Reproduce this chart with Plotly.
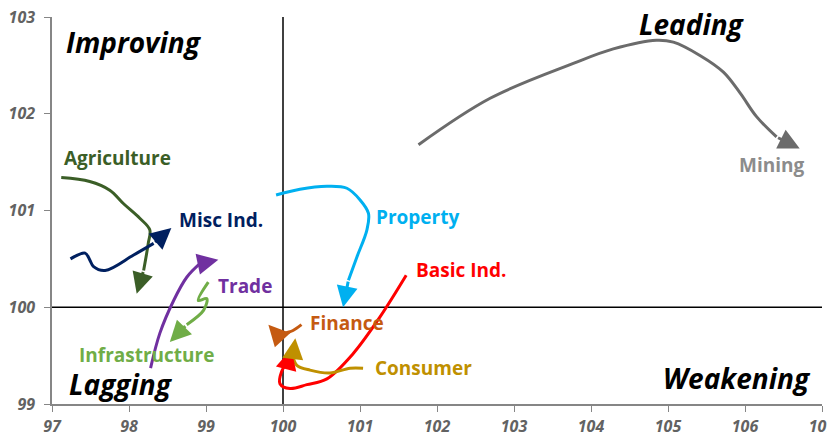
import plotly.graph_objects as go

# ---- data ----
sectors = ["Mining", "Agriculture", "Misc Ind.", "Trade", "Infrastructure",
           "Property", "Basic Ind.", "Consumer", "Finance"]

mining_x = [101.76, 102.69, 103.77, 104.29, 104.85, 105.07, 105.42, 105.72, 105.94, 106.15, 106.41, 106.71]
mining_y = [101.68, 102.16, 102.52, 102.67, 102.76, 102.74, 102.60, 102.43, 102.21, 101.97, 101.76, 101.64]

agri_x = [97.12, 97.49, 97.75, 97.93, 98.14, 98.27, 98.25, 98.19, 98.10]
agri_y = [101.34, 101.30, 101.21, 101.07, 100.92, 100.80, 100.66, 100.38, 100.14]

misc_x = [97.24, 97.43, 97.49, 97.54, 97.69, 98.06, 98.32, 98.55]
misc_y = [100.50, 100.56, 100.49, 100.42, 100.38, 100.54, 100.66, 100.82]

trade_x = [98.28, 98.40, 98.58, 98.75, 98.92, 99.16]
trade_y = [99.37, 99.73, 100.07, 100.31, 100.45, 100.49]

infra_x = [99.03, 98.90, 99.01, 98.97, 98.75, 98.53]
infra_y = [100.26, 100.07, 100.09, 99.97, 99.82, 99.64]

prop_x = [99.91, 100.22, 100.57, 100.83, 101.00, 101.11, 101.09, 100.96, 100.85, 100.78]
prop_y = [101.16, 101.22, 101.25, 101.23, 101.11, 100.97, 100.80, 100.52, 100.28, 100.00]

basic_x = [101.60, 101.26, 100.91, 100.57, 100.31, 100.09, 99.96, 99.98, 100.07, 100.11]
basic_y = [100.33, 99.90, 99.52, 99.26, 99.20, 99.16, 99.21, 99.33, 99.45, 99.57]

cons_x = [101.04, 100.87, 100.61, 100.35, 100.18, 100.13, 100.16]
cons_y = [99.37, 99.37, 99.32, 99.35, 99.40, 99.49, 99.68]

fin_x = [100.24, 100.13, 100.03, 99.96, 99.81]
fin_y = [99.82, 99.76, 99.73, 99.69, 99.82]

label_x = [106.35, 97.85, 99.20, 99.51, 98.23, 101.75, 102.31, 101.82, 100.83]
label_y = [101.47, 101.54, 100.90, 100.22, 99.51, 100.93, 100.38, 99.37, 99.84]

quadrants = ["Improving", "Leading", "Lagging", "Weakening"]
quad_x = [98.07, 105.31, 97.89, 105.90]
quad_y = [102.74, 102.93, 99.21, 99.27]

x_ticks = list(range(97, 108))
y_ticks = list(range(99, 104))
center = 100

# ---- styling ----
line_colors = ["#6b6b6b", "#3b5e27", "#002060", "#7030a0", "#70ad47",
               "#00b0f0", "#ff0000", "#bf9000", "#c55a11"]
label_colors = ["#8c8c8c", "#3b5e27", "#002060", "#7030a0", "#70ad47",
                "#00b0f0", "#ff0000", "#bf9000", "#c55a11"]

series = [(mining_x, mining_y), (agri_x, agri_y), (misc_x, misc_y),
          (trade_x, trade_y), (infra_x, infra_y), (prop_x, prop_y),
          (basic_x, basic_y), (cons_x, cons_y), (fin_x, fin_y)]

FONT = "Open Sans"
fig = go.Figure()
annotations = []

for name, (xs, ys), lc in zip(sectors, series, line_colors):
    fig.add_trace(go.Scatter(x=xs[:-1], y=ys[:-1], mode="lines",
                             line=dict(color=lc, width=3, shape="spline", smoothing=1.0),
                             name=name, showlegend=False, hoverinfo="skip"))
    annotations.append(dict(x=xs[-1], y=ys[-1], ax=xs[-2], ay=ys[-2],
                            xref="x", yref="y", axref="x", ayref="y",
                            text="", showarrow=True, arrowhead=2, arrowsize=1.4,
                            arrowwidth=3, arrowcolor=lc, standoff=0))

for name, lx, ly, c in zip(sectors, label_x, label_y, label_colors):
    annotations.append(dict(x=lx, y=ly, xref="x", yref="y", text="<b>%s</b>" % name,
                            showarrow=False, font=dict(family=FONT, size=19, color=c)))

for q, qx, qy in zip(quadrants, quad_x, quad_y):
    annotations.append(dict(x=qx, y=qy, xref="x", yref="y", text="<b><i>%s</i></b>" % q,
                            showarrow=False, font=dict(family=FONT, size=28, color="black")))

shapes = [
    dict(type="line", xref="x", yref="paper", x0=center, x1=center, y0=0, y1=1,
         line=dict(color="black", width=1.5), layer="below"),
    dict(type="line", xref="paper", yref="y", x0=0, x1=1, y0=center, y1=center,
         line=dict(color="black", width=1.5), layer="below"),
]

tickfont = dict(family=FONT, size=16, color="#626262")
axis_common = dict(showgrid=False, zeroline=False, showline=True, linecolor="#868686",
                   linewidth=1.5, ticks="outside", ticklen=6, tickcolor="#868686",
                   tickfont=tickfont, automargin=False, ticklabeloverflow="allow")
fig.update_layout(
    width=835, height=436,
    margin=dict(l=44, r=21, t=9, b=40),
    paper_bgcolor="white", plot_bgcolor="white",
    annotations=annotations, shapes=shapes,
    xaxis=dict(range=[97, 107], tickvals=x_ticks, ticklabelstandoff=1,
               ticktext=["<b><i>%d</i></b>" % v for v in x_ticks], **axis_common),
    yaxis=dict(range=[99, 103], tickvals=y_ticks, ticklabelstandoff=6,
               ticktext=["<b><i>%d</i></b>" % v for v in y_ticks], **axis_common),
)

fig.write_html("out.html")
